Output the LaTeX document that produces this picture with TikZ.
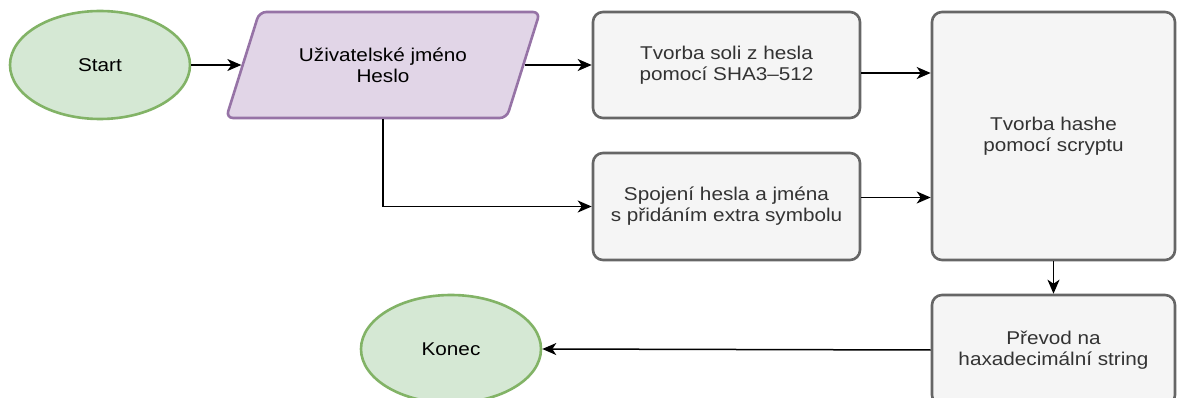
\documentclass[tikz,border=0pt]{standalone}
\usepackage{fontspec}
\setmainfont[FakeStretch=1.12]{Liberation Sans}
\usetikzlibrary{arrows.meta,shapes.geometric}
\definecolor{gfill}{HTML}{D5E8D4}
\definecolor{gline}{HTML}{82B366}
\definecolor{pfill}{HTML}{E1D5E7}
\definecolor{pline}{HTML}{9673A6}
\definecolor{bfill}{HTML}{F5F5F5}
\definecolor{bline}{HTML}{666666}
\definecolor{btext}{HTML}{333333}
\tikzset{
  term/.style={ellipse, draw=gline, fill=gfill, line width=2.6pt, inner sep=0pt,
    minimum width=180, minimum height=108, font=\fontsize{18.5}{21}\selectfont},
  io/.style={trapezium, trapezium left angle=57, trapezium right angle=123,
    trapezium stretches=true, draw=pline, fill=pfill, line width=2.6pt,
    rounded corners=7pt, inner sep=0pt, minimum width=314, minimum height=106,
    align=center, font=\fontsize{18.5}{21}\selectfont},
  proc/.style={rectangle, draw=bline, fill=bfill, line width=2.6pt, rounded corners=10pt,
    inner sep=0pt, align=center, text=btext, font=\fontsize{18.5}{21}\selectfont},
  arr/.style={draw=black, line width=1.5pt, -{Stealth[length=14pt,width=12pt,inset=4pt]}},
  ln/.style={draw=black, line width=1.5pt}
}
\begin{document}
\begin{tikzpicture}[x=1pt,y=-1pt]
\clip (0,0) rectangle (1181,398);
\fill[white] (0,0) rectangle (1181,398);

\node[term] (start) at (100,65) {Start};
\node[io] (inp) at (383,65) {Uživatelské jméno\\Heslo};
\node[proc, minimum width=267, minimum height=106] (b1) at (726.5,65) {Tvorba soli z hesla\\pomocí SHA3–512};
\node[proc, minimum width=267, minimum height=107] (b2) at (726.5,206.5) {Spojení hesla a jména\\s přidáním extra symbolu};
\node[proc, minimum width=243, minimum height=248] (big) at (1053.5,136) {Tvorba hashe\\pomocí scryptu};
\node[proc, minimum width=243, minimum height=110] (b3) at (1053.5,350) {Převod na\\haxadecimální string};
\node[term] (end) at (451,349) {Konec};

\draw[arr] (start.east) -- (inp.left side);
\draw[arr] (inp.right side) -- (b1.west);
\draw[arr] (inp.south) |- (b2.west);
\coordinate (a1) at ([yshift=-8pt]b1.east);
\coordinate (a2) at ([yshift=9pt]b2.east);
\draw[arr] (a1) -- (a1 -| big.west);
\draw[arr] (a2) -- (a2 -| big.west);
\draw[arr] (big.south) -- (b3.north);
\draw[arr] (b3.west) -- (end.east);
\end{tikzpicture}
\end{document}
